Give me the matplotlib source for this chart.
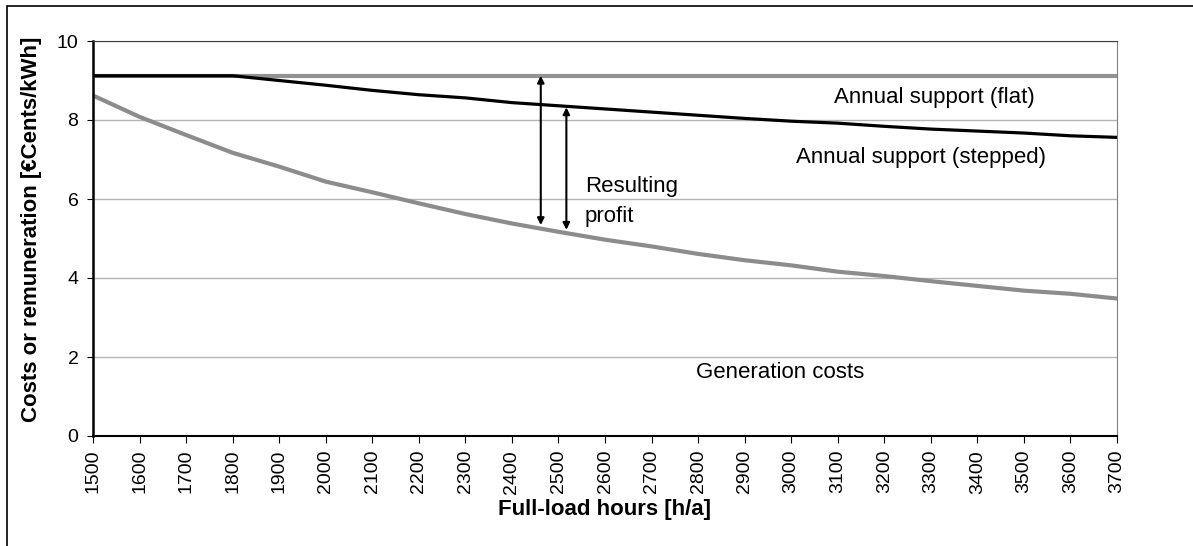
import numpy as np
import matplotlib.pyplot as plt
from matplotlib.patches import Rectangle

plt.rcParams['font.family'] = ['Liberation Sans', 'DejaVu Sans']

# Data
hours = np.arange(1500, 3701, 100)
support_flat = [9.12] * 23
support_stepped = [9.12, 9.12, 9.12, 9.12, 9.0, 8.88, 8.75, 8.64, 8.56, 8.44, 8.36,
                   8.28, 8.2, 8.12, 8.04, 7.97, 7.92, 7.84, 7.77, 7.72, 7.67, 7.6, 7.56]
gen_costs = [8.62, 8.08, 7.62, 7.17, 6.82, 6.44, 6.17, 5.89, 5.62, 5.38, 5.17,
             4.97, 4.8, 4.61, 4.45, 4.32, 4.16, 4.05, 3.92, 3.8, 3.68, 3.6, 3.48]

# profit arrows: (x, y_bottom, y_top)
arrow1 = (2462, 5.34, 9.12)
arrow2 = (2517, 5.22, 8.32)

fig = plt.figure(figsize=(11.93, 5.46), dpi=100)
ax = fig.add_axes([93 / 1193, 1 - 436 / 546, 1024 / 1193, 395 / 546])

# outer frame (runs off the right and bottom edges)
fig.patches.append(Rectangle((7 / 1193, -0.1), 1.5, 1.1 - 6 / 546, transform=fig.transFigure,
                             fill=False, edgecolor='black', linewidth=1.2))

ax.grid(axis='y', color='#b4b4b4', linewidth=1)
ax.set_axisbelow(True)

ax.plot(hours, support_flat, color='#929292', linewidth=3)
ax.plot(hours, support_stepped, color='black', linewidth=2.3)
ax.plot(hours, gen_costs, color='#8c8c8c', linewidth=3)

for x, y0, y1 in (arrow1, arrow2):
    ax.annotate('', xy=(x, y1), xytext=(x, y0),
                arrowprops=dict(arrowstyle='<|-|>', color='black', lw=1.5,
                                mutation_scale=10, shrinkA=0, shrinkB=0))

fs = 16
ax.text(3307, 8.58, 'Annual support (flat)', fontsize=fs, ha='center', va='center')
ax.text(3279, 7.06, 'Annual support (stepped)', fontsize=fs, ha='center', va='center')
ax.text(2557, 6.18, 'Resulting', fontsize=fs, ha='left', va='baseline')
ax.text(2557, 5.42, 'profit', fontsize=fs, ha='left', va='baseline')
ax.text(2976, 1.62, 'Generation costs', fontsize=fs, ha='center', va='center')

ax.set_xlim(1500, 3700)
ax.set_ylim(0, 10)
ax.set_xticks(hours)
ax.set_xticklabels([str(h) for h in hours], rotation=90, fontsize=14)
ax.set_yticks(range(0, 11, 2))
ax.tick_params(axis='y', labelsize=14, length=4.5, pad=6)
ax.tick_params(axis='x', length=5, pad=5)

ax.spines['left'].set_linewidth(1.8)
ax.spines['bottom'].set_linewidth(1.5)
ax.spines['top'].set_color('#404040')
ax.spines['right'].set_color('#808080')

ax.set_xlabel('Full-load hours [h/a]', fontsize=16, fontweight='bold', labelpad=4)
ax.set_ylabel('Costs or remuneration [€Cents/kWh]', fontsize=16, fontweight='bold')
ax.yaxis.set_label_coords(-0.0498, 0.524)

fig.savefig('out.png', dpi=100)
